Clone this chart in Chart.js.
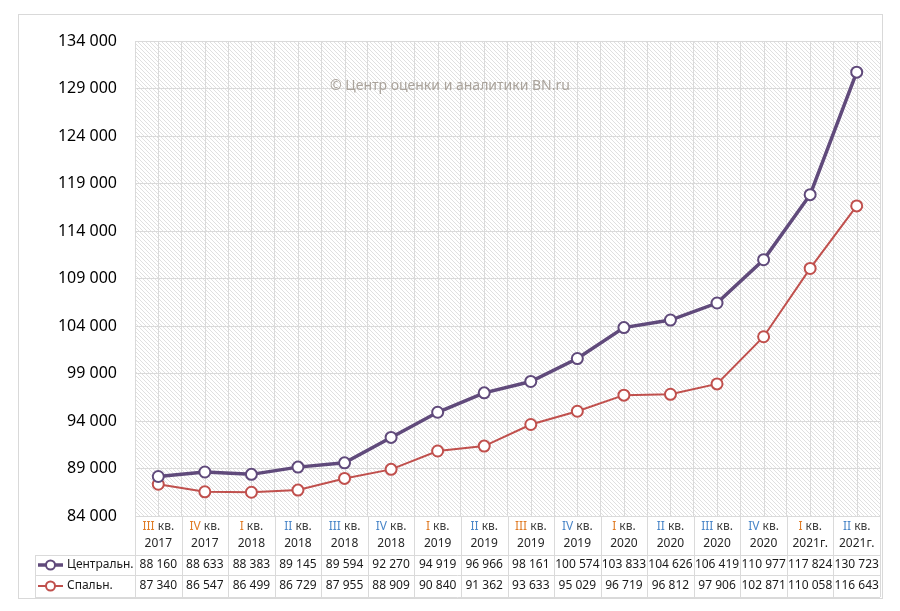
<!DOCTYPE html>
<html>
<head>
<meta charset="utf-8">
<script src="https://cdn.jsdelivr.net/npm/chart.js@4"></script>
<style>
  html, body { margin: 0; padding: 0; background: #fff; }
  #wrap { width: 900px; height: 611px; }
</style>
</head>
<body>
<div id="wrap"><canvas id="priceChart" width="900" height="611"></canvas></div>
<script>
// Data
const quarters = ["III кв.", "IV кв.", "I кв.", "II кв.", "III кв.", "IV кв.", "I кв.", "II кв.",
  "III кв.", "IV кв.", "I кв.", "II кв.", "III кв.", "IV кв.", "I кв.", "II кв."];
const years = ["2017", "2017", "2018", "2018", "2018", "2018", "2019", "2019",
  "2019", "2019", "2020", "2020", "2020", "2020", "2021г.", "2021г."];
const central = [88160, 88633, 88383, 89145, 89594, 92270, 94919, 96966,
  98161, 100574, 103833, 104626, 106419, 110977, 117824, 130723];
const sleeping = [87340, 86547, 86499, 86729, 87955, 88909, 90840, 91362,
  93633, 95029, 96719, 96812, 97906, 102871, 110058, 116643];
const seriesNames = ["Центральн.", "Спальн."];
const yMin = 84000, yMax = 134000, yStep = 5000;

// roman numeral colours as they appear in the picture
const romanColors = ["#e07b24", "#e07b24", "#e07b24", "#4a86c8", "#4a86c8", "#4a86c8", "#e07b24", "#4a86c8",
  "#e07b24", "#4a86c8", "#e07b24", "#4a86c8", "#4a86c8", "#4a86c8", "#e07b24", "#4a86c8"];
const lineColors = ["#604a7b", "#c0504d"];
const gridColor = "#dadada";
const FONT = '"Noto Sans", "DejaVu Sans", sans-serif';

const fmt = v => v.toLocaleString("ru-RU").replace(/\s/g, " ");

// hatch pattern for plot area
function makeHatch() {
  const c = document.createElement("canvas");
  c.width = 4; c.height = 4;
  const g = c.getContext("2d");
  g.fillStyle = "#fff";
  g.fillRect(0, 0, 4, 4);
  g.strokeStyle = "#e0e0e0";
  g.lineWidth = 1;
  g.beginPath();
  g.moveTo(-1, -1); g.lineTo(5, 5);
  g.moveTo(-1, 3); g.lineTo(1, 5);
  g.moveTo(3, -1); g.lineTo(5, 1);
  g.stroke();
  return g.createPattern(c, "repeat");
}

const backdrop = {
  id: "backdrop",
  beforeDraw(chart) {
    const { ctx, chartArea: a } = chart;
    ctx.save();
    ctx.fillStyle = "#fff";
    ctx.fillRect(0, 0, chart.width, chart.height);
    ctx.fillStyle = makeHatch();
    ctx.fillRect(a.left, a.top, a.right - a.left, a.bottom - a.top);
    ctx.restore();
  },
  beforeDatasetsDraw(chart) {
    const { ctx, chartArea: a, scales } = chart;
    ctx.save();
    // extra vertical lines through category centres
    ctx.strokeStyle = gridColor;
    ctx.lineWidth = 1;
    quarters.forEach((q, i) => {
      const x = Math.round(scales.x.getPixelForValue(i)) + 0.5;
      ctx.beginPath();
      ctx.moveTo(x, a.top);
      ctx.lineTo(x, a.bottom);
      ctx.stroke();
    });
    // watermark
    ctx.fillStyle = "#aaa39b";
    ctx.font = "14px " + FONT;
    ctx.textAlign = "center";
    ctx.textBaseline = "middle";
    ctx.fillText("© Центр оценки и аналитики BN.ru", 450, 86);
    ctx.restore();
  }
};

const dataTable = {
  id: "dataTable",
  afterDraw(chart) {
    const { ctx, chartArea: a, scales } = chart;
    const x = scales.x;
    const colW = (a.right - a.left) / quarters.length;
    const top = a.bottom, row1 = 555, row2 = 575, bottom = 597, left = 35;
    ctx.save();
    ctx.strokeStyle = gridColor;
    ctx.lineWidth = 1;
    ctx.beginPath();
    for (let i = 0; i <= quarters.length; i++) {
      const px = Math.round(a.left + i * colW) + 0.5;
      ctx.moveTo(px, top);
      ctx.lineTo(px, bottom);
    }
    [row1, row2, bottom].forEach(y => {
      ctx.moveTo(left, y + 0.5);
      ctx.lineTo(a.right, y + 0.5);
    });
    ctx.moveTo(left + 0.5, row1);
    ctx.lineTo(left + 0.5, bottom);
    ctx.stroke();

    // header: quarter + year
    ctx.textBaseline = "middle";
    quarters.forEach((q, i) => {
      const cx = x.getPixelForValue(i);
      const parts = q.split(" ");
      const roman = parts[0], rest = " " + parts.slice(1).join(" ");
      ctx.font = "12px " + FONT;
      const w1 = ctx.measureText(roman).width, w2 = ctx.measureText(rest).width;
      const sx = cx - (w1 + w2) / 2;
      ctx.textAlign = "left";
      ctx.fillStyle = romanColors[i];
      ctx.fillText(roman, sx, 527);
      ctx.fillStyle = "#404040";
      ctx.fillText(rest, sx + w1, 527);
      ctx.textAlign = "center";
      ctx.fillStyle = "#262626";
      ctx.fillText(years[i], cx, 544);
    });

    // value rows
    [central, sleeping].forEach((vals, r) => {
      const cy = r === 0 ? 565 : 586;
      ctx.font = "12px " + FONT;
      ctx.fillStyle = "#1a1a1a";
      ctx.textAlign = "center";
      vals.forEach((v, i) => ctx.fillText(fmt(v), x.getPixelForValue(i), cy));
      // legend key
      ctx.strokeStyle = lineColors[r];
      ctx.lineWidth = r === 0 ? 3.5 : 2;
      ctx.beginPath();
      ctx.moveTo(38, cy);
      ctx.lineTo(63, cy);
      ctx.stroke();
      ctx.fillStyle = "#fff";
      ctx.lineWidth = 2;
      ctx.beginPath();
      ctx.arc(50.5, cy, 4.5, 0, Math.PI * 2);
      ctx.fill();
      ctx.stroke();
      ctx.fillStyle = "#1a1a1a";
      ctx.textAlign = "left";
      ctx.fillText(seriesNames[r], 67, cy);
    });

    // outer frame
    ctx.strokeStyle = "#d9d9d9";
    ctx.lineWidth = 1;
    ctx.strokeRect(18.5, 14.5, 864, 584);
    ctx.restore();
  }
};

const ctx = document.getElementById("priceChart").getContext("2d");
new Chart(ctx, {
  type: "line",
  data: {
    labels: quarters.map((q, i) => q + " " + years[i]),
    datasets: [{
      label: seriesNames[0],
      data: central,
      borderColor: lineColors[0],
      borderWidth: 3.5,
      pointRadius: 5.5,
      pointBorderWidth: 2,
      pointBackgroundColor: "#fff",
      pointBorderColor: lineColors[0],
      tension: 0
    }, {
      label: seriesNames[1],
      data: sleeping,
      borderColor: lineColors[1],
      borderWidth: 2,
      pointRadius: 5.5,
      pointBorderWidth: 2,
      pointBackgroundColor: "#fff",
      pointBorderColor: lineColors[1],
      tension: 0
    }]
  },
  options: {
    responsive: false,
    animation: false,
    layout: { padding: { left: 0, right: 20, top: 41, bottom: 0 } },
    plugins: {
      legend: { display: false },
      tooltip: { enabled: false }
    },
    scales: {
      x: {
        offset: true,
        grid: { offset: true, color: gridColor, drawTicks: false },
        border: { display: false },
        ticks: { display: false },
        afterFit: s => { s.height = 95; }
      },
      y: {
        min: yMin,
        max: yMax,
        grid: { color: gridColor, drawTicks: false },
        border: { display: false },
        ticks: {
          stepSize: yStep,
          padding: 18,
          color: "#000",
          font: { family: "Noto Sans", size: 16 },
          callback: v => fmt(v)
        },
        afterFit: s => { s.width = 135; }
      }
    }
  },
  plugins: [backdrop, dataTable]
});
</script>
</body>
</html>
